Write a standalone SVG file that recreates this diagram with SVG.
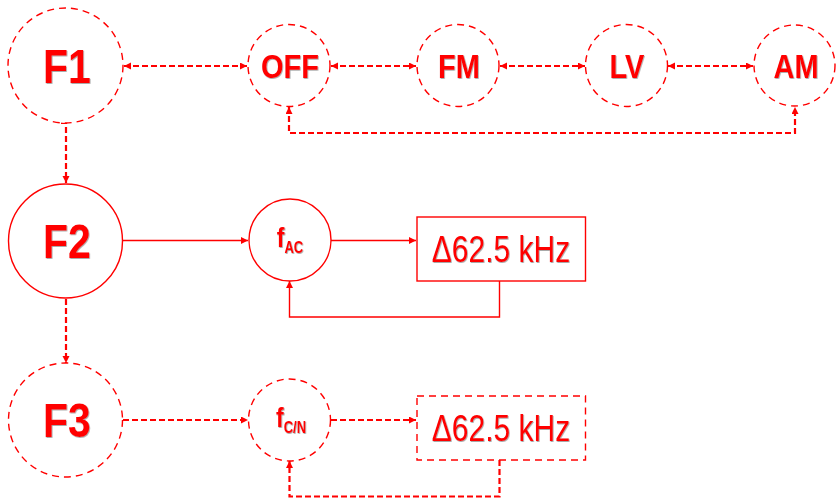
<svg xmlns="http://www.w3.org/2000/svg" width="836" height="501" viewBox="0 0 836 501">
<defs>
  <marker id="ah" markerUnits="userSpaceOnUse" markerWidth="8" markerHeight="8" refX="7" refY="3.5" orient="auto-start-reverse">
    <path d="M0,0 L7,3.5 L0,7 z" fill="#ff0000"/>
  </marker>
  <filter id="sh" x="-10%" y="-10%" width="130%" height="130%">
    <feDropShadow dx="0.7" dy="0.7" stdDeviation="0.3" flood-color="#555" flood-opacity="0.6"/>
  </filter>
</defs>
<style>
  .nd { fill: #fff; stroke: #ff0000; stroke-width: 1.4; }
  .dn { stroke-dasharray: 7 5; }
  .cs { fill: none; stroke: #ff0000; stroke-width: 1.4; }
  .cd { fill: none; stroke: #ff0000; stroke-width: 2.2; stroke-dasharray: 6 3; }
  text { font-family: "Liberation Sans", Arial, sans-serif; fill: #ff0000; text-anchor: middle; filter: url(#sh); }
  .big { font-size: 41px; font-weight: bold; }
  .mid { font-size: 29px; font-weight: bold; }
  .box { font-size: 30px; }
  .f { font-size: 23px; font-weight: bold; }
  .sub { font-size: 13px; font-weight: bold; }
</style>
<g id="connectors">
  <path class="cd" d="M124 66 H247" marker-start="url(#ah)" marker-end="url(#ah)"/>
  <path class="cd" d="M331 66 H416" marker-start="url(#ah)" marker-end="url(#ah)"/>
  <path class="cd" d="M500 66 H585" marker-start="url(#ah)" marker-end="url(#ah)"/>
  <path class="cd" d="M668 66 H753" marker-start="url(#ah)" marker-end="url(#ah)"/>
  <path class="cd" d="M289 107 V133 H795 V107" marker-start="url(#ah)" marker-end="url(#ah)"/>
  <path class="cd" d="M61 123 H66 V183" marker-end="url(#ah)"/>
  <path class="cs" d="M123 240.5 H248" marker-end="url(#ah)"/>
  <path class="cs" d="M331 240.5 H416" marker-end="url(#ah)"/>
  <path class="cs" d="M499.5 281 V317 H289.5 V281" marker-end="url(#ah)"/>
  <path class="cd" d="M66 299 V363" marker-end="url(#ah)"/>
  <path class="cd" d="M123 420 H248" marker-end="url(#ah)"/>
  <path class="cd" d="M331 420 H416" marker-end="url(#ah)"/>
  <path class="cd" d="M499.5 460 V496.5 H289.5 V461" marker-end="url(#ah)"/>
</g>
<g id="F1">
  <circle class="nd dn" cx="65.5" cy="65.5" r="57.5"/>
  <text class="big" transform="translate(67,83) scale(1,1.18)">F1</text>
</g>
<g id="OFF">
  <circle class="nd dn" cx="289" cy="65.5" r="41"/>
  <text class="mid" transform="translate(290,77.5) scale(1,1.12)">OFF</text>
</g>
<g id="FM">
  <circle class="nd dn" cx="458" cy="65.5" r="41"/>
  <text class="mid" transform="translate(459,77.5) scale(1,1.12)">FM</text>
</g>
<g id="LV">
  <circle class="nd dn" cx="626.5" cy="65.5" r="41"/>
  <text class="mid" transform="translate(627,77.5) scale(1,1.12)">LV</text>
</g>
<g id="AM">
  <circle class="nd dn" cx="794.5" cy="65.5" r="40.5"/>
  <text class="mid" transform="translate(796,77.5) scale(1,1.12)">AM</text>
</g>
<g id="F2">
  <circle class="nd" cx="65.5" cy="241" r="57"/>
  <text class="big" transform="translate(67,257.5) scale(1,1.18)">F2</text>
</g>
<g id="fAC">
  <circle class="nd" cx="290" cy="240" r="41"/>
  <text class="f" transform="translate(290,247) scale(1,1.2)">f<tspan class="sub" dy="5">AC</tspan></text>
</g>
<g id="box1">
  <rect class="nd" x="417" y="217" width="168.5" height="64"/>
  <text class="box" transform="translate(501,261.5) scale(1,1.21)">Δ62.5 kHz</text>
</g>
<g id="F3">
  <circle class="nd dn" cx="65.5" cy="420" r="57"/>
  <text class="big" transform="translate(67,437) scale(1,1.18)">F3</text>
</g>
<g id="fCN">
  <circle class="nd dn" cx="289.5" cy="420" r="41"/>
  <text class="f" transform="translate(291,427) scale(1,1.2)">f<tspan class="sub" dy="5">C/N</tspan></text>
</g>
<g id="box2">
  <rect class="nd dn" x="417" y="396" width="168.5" height="64"/>
  <text class="box" transform="translate(501,441) scale(1,1.21)">Δ62.5 kHz</text>
</g>
</svg>
